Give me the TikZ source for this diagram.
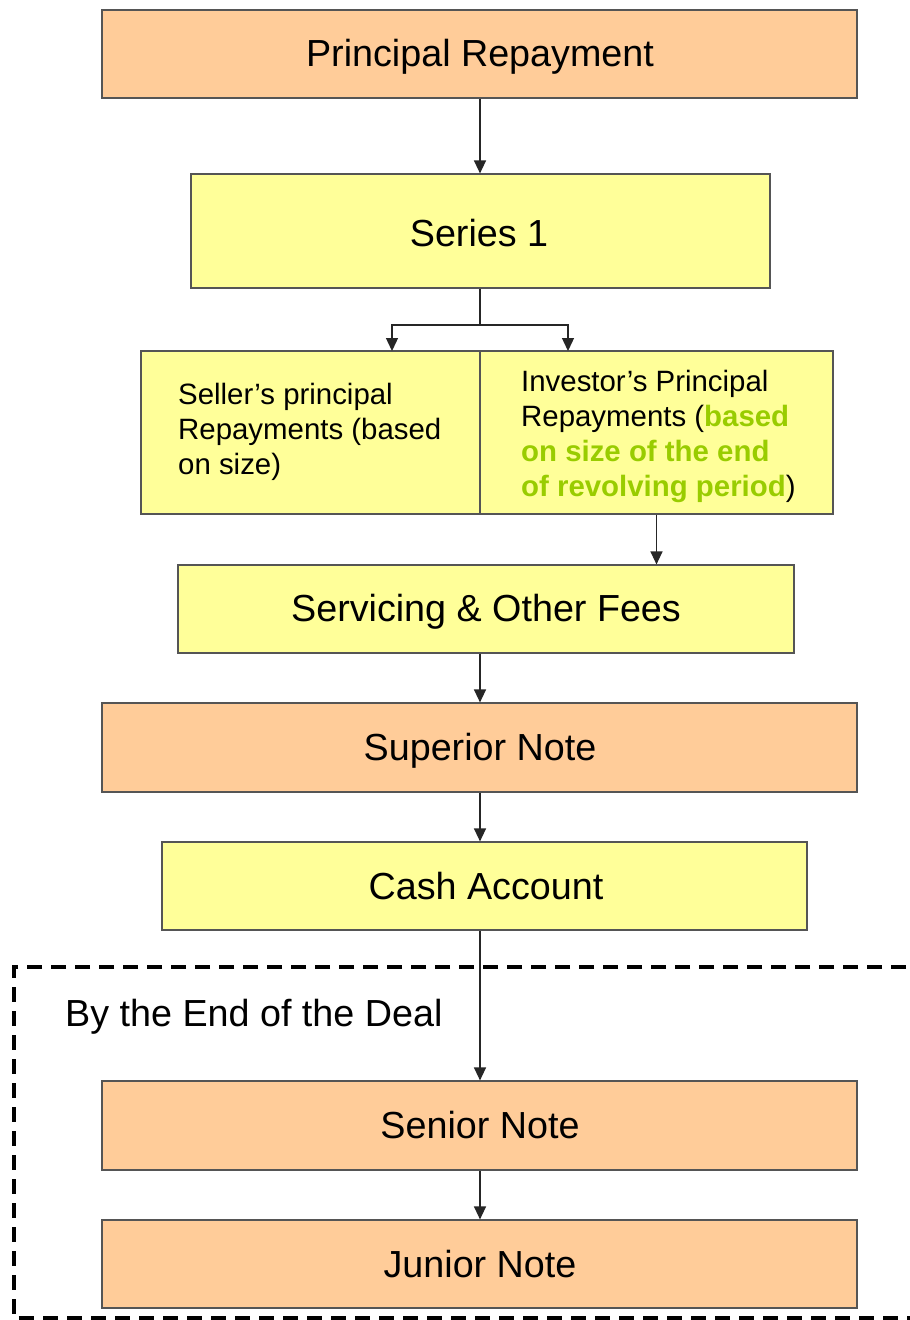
\documentclass[tikz,border=0pt]{standalone}
\usepackage{fontspec}
\setmainfont{Liberation Sans}
\usetikzlibrary{arrows.meta}
\definecolor{boxorange}{HTML}{FFCC99}
\definecolor{boxyellow}{HTML}{FFFF99}
\definecolor{hlgreen}{HTML}{99CC00}
\definecolor{edgegray}{HTML}{555555}
\tikzset{
  flowbox/.style={draw=edgegray, line width=1.2pt, inner sep=0pt,
    font=\fontsize{37.7}{44}\selectfont},
  orangebox/.style={flowbox, fill=boxorange},
  yellowbox/.style={flowbox, fill=boxyellow},
  boxlabel/.style={inner sep=0pt, font=\fontsize{37.7}{44}\selectfont},
  smalltext/.style={inner sep=0pt, align=left, anchor=west,
    font=\fontsize{29.4}{35}\selectfont},
  flowarrow/.style={draw=black!85, line width=1.3pt,
    -{Triangle[width=12pt,length=13pt]}},
  flowline/.style={draw=black!85, line width=1.3pt},
  dealframe/.style={draw=black, line width=3.5pt, dash pattern=on 15pt off 9pt}
}
\begin{document}
\begin{tikzpicture}[x=1pt,y=-1pt]
\useasboundingbox (0,0) rectangle (910,1320);
\clip (0,0) rectangle (910,1320);
\fill[white] (0,0) rectangle (910,1320);

% dashed frame
\draw[dealframe] (930,967) -- (14,967) -- (14,1318) -- (930,1318);
\node[anchor=base west, inner sep=0pt, font=\fontsize{37.7}{44}\selectfont] (deal) at (65,1026) {By the End of the Deal};

% boxes
\node[orangebox, minimum width=755pt, minimum height=88pt] (pr) at (479.5,54) {};
\node[yellowbox, minimum width=579pt, minimum height=114pt] (s1) at (480.5,231) {};
\node[yellowbox, minimum width=339pt, minimum height=163pt] (seller) at (310.5,432.5) {};
\node[yellowbox, minimum width=353pt, minimum height=163pt] (inv) at (656.5,432.5) {};
\node[yellowbox, minimum width=616pt, minimum height=88pt] (serv) at (486,609) {};
\node[orangebox, minimum width=755pt, minimum height=89pt] (sup) at (479.5,747.5) {};
\node[yellowbox, minimum width=645pt, minimum height=88pt] (cash) at (484.5,886) {};
\node[orangebox, minimum width=755pt, minimum height=89pt] (sen) at (479.5,1125.5) {};
\node[orangebox, minimum width=755pt, minimum height=88pt] (jun) at (479.5,1264) {};

% labels
\node[boxlabel, anchor=base] (prtxt) at (480,66) {Principal Repayment};
\node[boxlabel, anchor=base] (s1txt) at (479,246) {Series 1};
\node[boxlabel, anchor=base] (servtxt) at (486,621) {Servicing \& Other Fees};
\node[boxlabel, anchor=base] (suptxt) at (480,760) {Superior Note};
\node[boxlabel, anchor=base] (cashtxt) at (486,899) {Cash Account};
\node[boxlabel, anchor=base] (sentxt) at (480,1138) {Senior Note};
\node[boxlabel, anchor=base] (juntxt) at (480,1277) {Junior Note};
\node[smalltext] (sellertxt) at (178,432) {Seller’s principal\\Repayments (based\\on size)};
\node[smalltext] (invtxt) at (521,436.5) {Investor’s Principal\\Repayments (\textcolor{hlgreen}{\textbf{based}}\\\textcolor{hlgreen}{\textbf{on size of the end}}\\\textcolor{hlgreen}{\textbf{of revolving period}})};

% connectors
\coordinate (fork) at (480,325);
\coordinate (inL) at (392,351);
\coordinate (inR) at (568,351);
\draw[flowarrow] (pr.south -| fork) -- (s1.north -| fork);
\draw[flowline] (s1.south -| fork) -- (fork);
\draw[flowarrow] (fork) -| (inL);
\draw[flowarrow] (fork) -| (inR);
\draw[flowarrow] (inv.south) -- (inv.south |- serv.north);
\draw[flowarrow] (serv.south -| fork) -- (sup.north -| fork);
\draw[flowarrow] (sup.south -| fork) -- (cash.north -| fork);
\draw[flowarrow] (cash.south -| fork) -- (sen.north -| fork);
\draw[flowarrow] (sen.south -| fork) -- (jun.north -| fork);
\end{tikzpicture}
\end{document}
